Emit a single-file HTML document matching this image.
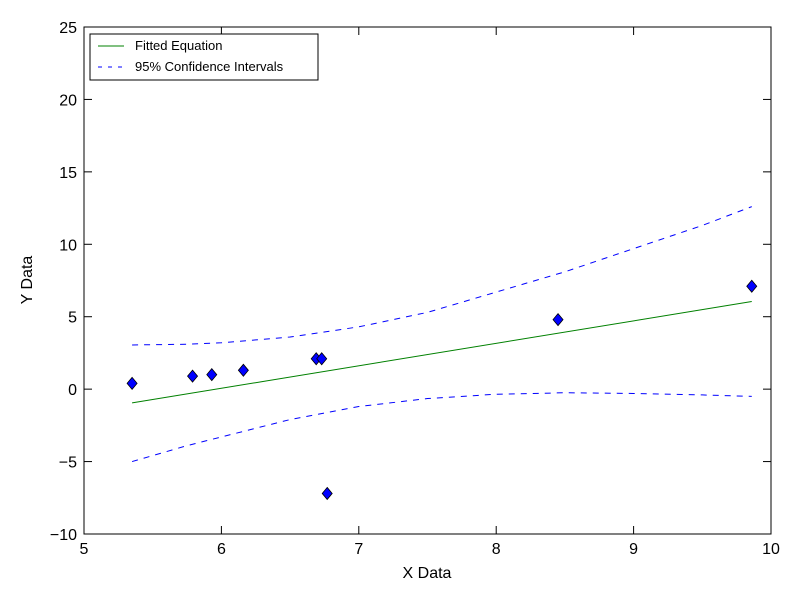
<!DOCTYPE html>
<html><head><meta charset="utf-8"><style>body{margin:0;background:#fff}svg{display:block;font-family:"Liberation Sans","DejaVu Sans",sans-serif}</style></head>
<body>
<svg id="chart" width="800" height="600">
<rect width="800" height="600" fill="#fff"/>
<g id="plot"></g>
<rect x="84" y="27" width="687" height="507" fill="none" stroke="#000" stroke-width="1"/>
<g id="axes"></g>
<text x="427" y="578" font-size="16" text-anchor="middle">X Data</text>
<text x="32" y="280" font-size="16" text-anchor="middle" transform="rotate(-90 32 280)">Y Data</text>
<g>
<rect x="90" y="34" width="228" height="46" fill="#fff" stroke="#000"/>
<line x1="98" y1="46" x2="124" y2="46" stroke="#008000"/>
<text x="135" y="50" font-size="13">Fitted Equation</text>
<line x1="98" y1="67" x2="124" y2="67" stroke="#0000ff" stroke-dasharray="4,6"/>
<text x="135" y="71" font-size="13">95% Confidence Intervals</text>
</g>
</svg>
<script>
const dataX=[5.35,5.79,5.93,6.16,6.69,6.73,6.77,8.45,9.86];
const dataY=[0.4,0.9,1.0,1.3,2.1,2.1,-7.2,4.8,7.1];
const fitX=[5.35,9.86];
const fitY=[-0.95,6.05];
const ciX=[5.35,5.75,6.0,6.5,7.0,7.5,8.0,8.5,9.0,9.5,9.86];
const ciUpper=[3.05,3.1,3.2,3.6,4.3,5.3,6.7,8.1,9.7,11.3,12.6];
const ciLower=[-5.0,-3.9,-3.3,-2.1,-1.2,-0.65,-0.35,-0.25,-0.3,-0.4,-0.5];
const xTicks=[5,6,7,8,9,10];
const yTicks=[-10,-5,0,5,10,15,20,25];
const sx=v=>84+(v-5)*687/5;
const sy=v=>534-(v+10)*507/35;
const NS='http://www.w3.org/2000/svg';
const plot=document.getElementById('plot'),axes=document.getElementById('axes');
function mk(tag,attrs,parent){const e=document.createElementNS(NS,tag);for(const k in attrs)e.setAttribute(k,attrs[k]);parent.appendChild(e);return e;}
function pts(xs,ys){return xs.map((x,i)=>sx(x)+','+sy(ys[i])).join(' ');}
let p=mk('polyline',{points:pts(fitX,fitY),fill:'none',stroke:'#008000','stroke-width':1},plot);


p=mk('polyline',{points:pts(ciX,ciUpper),fill:'none',stroke:'#0000ff','stroke-width':1,'stroke-dasharray':'6,6'},plot);


p=mk('polyline',{points:pts(ciX,ciLower),fill:'none',stroke:'#0000ff','stroke-width':1,'stroke-dasharray':'6,6'},plot);


dataX.forEach((x,i)=>{const cx=sx(x),cy=sy(dataY[i]);
const d=mk('polygon',{points:`${cx},${cy-6} ${cx+5},${cy} ${cx},${cy+6} ${cx-5},${cy}`,fill:'#0000ff',stroke:'#000','stroke-width':0.8},plot);

});
xTicks.forEach(t=>{const x=sx(t);
mk('line',{x1:x,y1:534,x2:x,y2:526,stroke:'#000'},axes);
mk('line',{x1:x,y1:27,x2:x,y2:35,stroke:'#000'},axes);
const l=mk('text',{x:x,y:554,'font-size':16,'text-anchor':'middle'},axes);l.textContent=t;

});
yTicks.forEach(t=>{const y=sy(t);
mk('line',{x1:84,y1:y,x2:92,y2:y,stroke:'#000'},axes);
mk('line',{x1:771,y1:y,x2:763,y2:y,stroke:'#000'},axes);
const l=mk('text',{x:77,y:y+6,'font-size':16,'text-anchor':'end'},axes);l.textContent=t<0?'\u2212'+(-t):t;

});
</script>
</body></html>
